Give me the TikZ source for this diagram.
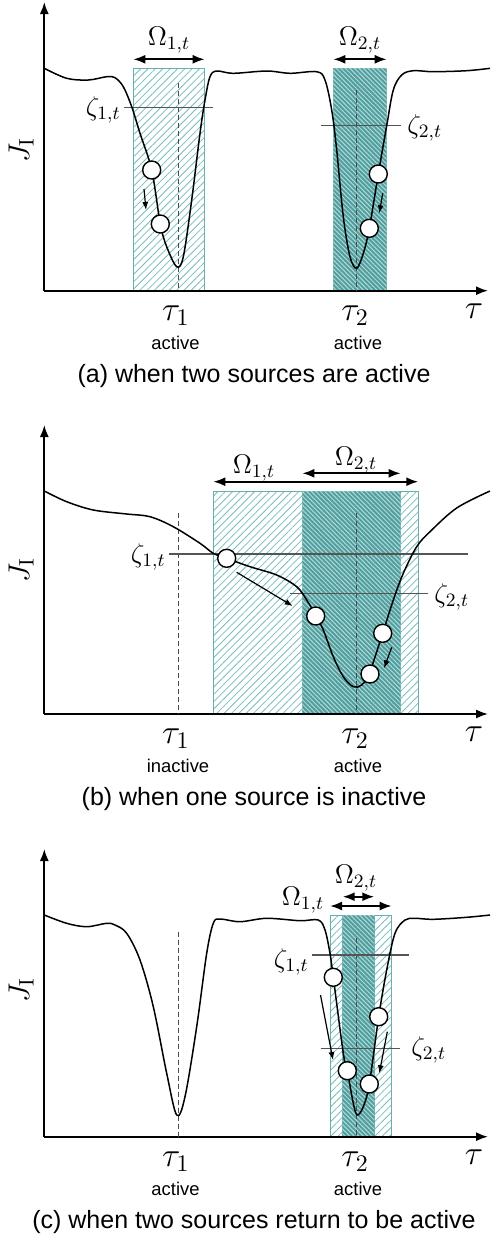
\RequirePackage{fix-cm}
\documentclass[tikz,border=0pt]{standalone}
\usepackage[no-math]{fontspec}
\newfontfamily\capfont{Liberation Sans}
\usetikzlibrary{arrows.meta,patterns.meta}
\definecolor{hatchlight}{RGB}{120,188,188}
\definecolor{boxborder}{RGB}{105,175,175}
\definecolor{darkfill}{RGB}{82,158,158}
\definecolor{darkline}{RGB}{175,218,218}
\definecolor{zetagray}{RGB}{85,85,85}
\definecolor{dashgray}{RGB}{75,75,75}
\tikzset{
  lightbox/.style={draw=boxborder, line width=0.5pt, pattern={Lines[angle=45,distance=2.6pt,line width=0.4pt]}, pattern color=hatchlight},
  darkbox/.style={draw=boxborder, line width=0.5pt, fill=darkfill, postaction={pattern={Lines[angle=-45,distance=1.6pt,line width=0.5pt]}, pattern color=darkline}},
  axisline/.style={line width=0.85pt, -{Latex[length=6pt,width=4.5pt]}},
  curveline/.style={line width=0.75pt},
  zetaline/.style={line width=0.6pt, draw=zetagray},
  tauline/.style={line width=0.5pt, draw=dashgray, dash pattern=on 2.5pt off 1.5pt},
  omegaarrow/.style={line width=1pt, {Latex[length=6pt,width=4.5pt]}-{Latex[length=6pt,width=4.5pt]}},
  ball/.style={circle, draw, fill=white, line width=0.7pt, minimum size=9pt, inner sep=0pt},
  movearrow/.style={line width=0.6pt, -{Latex[length=4pt,width=3pt]}},
  taulab/.style={inner sep=0pt, anchor=base, font=\fontsize{17}{20}\selectfont},
  smalllab/.style={inner sep=0pt, font=\fontsize{13.5}{16}\selectfont},
  statelab/.style={inner sep=0pt, anchor=base, font=\capfont\fontsize{9.2}{11}\selectfont},
  caplab/.style={inner sep=0pt, anchor=base, font=\capfont\fontsize{12.5}{15}\selectfont},
  jlab/.style={inner sep=0pt, rotate=90, font=\fontsize{15}{18}\selectfont},
}
\begin{document}
\begin{tikzpicture}[x=0.5pt,y=-0.5pt]
\useasboundingbox (0,0) rectangle (491,1239);

% ================= panel (a) =================
\begin{scope}
\path[lightbox] (133.3,68) rectangle (204.7,290.7);
\path[darkbox] (333.3,68) rectangle (386.7,290.7);
\coordinate (aO) at (44.3,290.7);
\coordinate (aY) at (44.3,2);
\coordinate (aX) at (488,290.7);
\draw[axisline] (aO) -- (aY);
\draw[axisline] (aO) -- (aX);
\draw[tauline] (178.3,83) -- (178.3,290.7);
\draw[tauline] (356.7,90) -- (356.7,290.7);
\draw[zetaline] (124.3,107.7) -- (213.3,107.7);
\draw[zetaline] (320.7,125.7) -- (400.7,125.7);
\draw[curveline] plot[smooth,tension=0.55] coordinates {(44.3,68.3) (66.7,78.3) (88.3,80) (106.7,76.7) (115,77.7) (123.3,86.7) (131.7,106.7) (140,133.3) (151.7,170) (160.3,224) (166.7,246.7) (176.7,266.7) (183.3,256.7) (191.7,200) (200,133.3) (205,100) (210,76.7) (216.7,71) (233.3,73.3) (266.7,71) (290,73.3) (316.7,71.7) (325,80) (331.7,110) (336.7,150) (343.3,216.7) (350,256.7) (356.7,268.3) (363.3,253.3) (369.3,228.3) (378.3,174) (386.7,125.7) (393.3,90) (401.7,75) (413.3,70.7) (433.3,71.7) (466.7,70.7) (490,68.3)};
\node[ball] (a1) at (151.7,170) {};
\node[ball] (a2) at (160.3,224) {};
\node[ball] (a3) at (378.3,174) {};
\node[ball] (a4) at (369.3,228.3) {};
\draw[movearrow] (144,189) -- (146,210);
\draw[movearrow] (382.7,193.3) -- (379.3,213.3);
\coordinate (aw1l) at (133.3,59.3); \coordinate (aw1r) at (204.7,59.3);
\coordinate (aw2l) at (333.3,59.3); \coordinate (aw2r) at (386.7,59.3);
\draw[omegaarrow] (aw1l) -- (aw1r);
\draw[omegaarrow] (aw2l) -- (aw2r);
\node[smalllab,anchor=base] (aom1) at (169,45.7) {$\Omega_{1,t}$};
\node[smalllab,anchor=base] (aom2) at (360,45.7) {$\Omega_{2,t}$};
\node[smalllab,anchor=east] (az1) at (121,110) {$\zeta_{1,t}$};
\node[smalllab,anchor=west] (az2) at (407,128.3) {$\zeta_{2,t}$};
\node[jlab] (aj) at (21,150) {$J_{\mathrm{I}}$};
\node[taulab] (at1) at (175.8,320) {$\tau_1$};
\node[taulab] (at2) at (355,320) {$\tau_2$};
\node[taulab] (at) at (474,318) {$\tau$};
\node[statelab] (as1) at (175.5,349) {active};
\node[statelab] (as2) at (358,349) {active};
\node[caplab] (acap) at (254,382.7) {(a) when two sources are active};
\end{scope}

% ================= panel (b) =================
\begin{scope}[shift={(0,423)}]
\path[lightbox] (213.3,68) rectangle (418.3,291);
\path[darkbox] (302.3,68) rectangle (400.7,291);
\coordinate (bO) at (44.3,291);
\coordinate (bY) at (44.3,2);
\coordinate (bX) at (488,291);
\draw[axisline] (bO) -- (bY);
\draw[axisline] (bO) -- (bX);
\draw[tauline] (178.3,90) -- (178.3,291);
\draw[tauline] (356.7,90) -- (356.7,291);
\draw[zetaline] (169.3,131) -- (468.3,131);
\draw[zetaline] (290,170.3) -- (427.7,170.3);
\draw[curveline] plot[smooth,tension=0.55] coordinates {(44.3,68) (66.7,78.7) (93.3,87) (126.7,91) (150,93.7) (173.3,103.7) (200,120.3) (213.3,130.3) (226.7,135.3) (250,143.7) (276.7,152) (296.7,163.7) (306.7,177) (316,192.7) (323.3,207) (333.3,233.7) (343.3,253.7) (353.3,263.7) (361.7,262) (369.3,250.3) (382.7,210.3) (393.3,177) (403.3,150.3) (416.7,123.7) (430,108.7) (456.7,85) (490,68)};
\node[ball] (b1) at (226.7,135.3) {};
\node[ball] (b2) at (315.7,193) {};
\node[ball] (b3) at (382.7,210.3) {};
\node[ball] (b4) at (370,251) {};
\draw[movearrow] (236.7,149.3) -- (292.7,183);
\draw[movearrow] (391.7,224.3) -- (384,245.3);
\coordinate (bw1l) at (213.3,58.7); \coordinate (bw1r) at (418.3,58.7);
\coordinate (bw2l) at (302.3,50.3); \coordinate (bw2r) at (400.7,50.3);
\draw[omegaarrow] (bw1l) -- (bw1r);
\draw[omegaarrow] (bw2l) -- (bw2r);
\node[smalllab,anchor=base] (bom1) at (254,50.3) {$\Omega_{1,t}$};
\node[smalllab,anchor=base] (bom2) at (356,42) {$\Omega_{2,t}$};
\node[smalllab,anchor=east] (bz1) at (166,133.7) {$\zeta_{1,t}$};
\node[smalllab,anchor=west] (bz2) at (434,173.7) {$\zeta_{2,t}$};
\node[jlab] (bj) at (21,147) {$J_{\mathrm{I}}$};
\node[taulab] (bt1) at (175.8,320) {$\tau_1$};
\node[taulab] (bt2) at (355,320) {$\tau_2$};
\node[taulab] (bt) at (474,318) {$\tau$};
\node[statelab] (bs1) at (178,349) {inactive};
\node[statelab] (bs2) at (358,349) {active};
\node[caplab] (bcap) at (254,382.7) {(b) when one source is inactive};
\end{scope}

% ================= panel (c) =================
\begin{scope}[shift={(0,846)}]
\path[lightbox] (330,69) rectangle (391.7,290.7);
\path[darkbox] (342.7,69) rectangle (374.3,290.7);
\coordinate (cO) at (44.3,290.7);
\coordinate (cY) at (44.3,3);
\coordinate (cX) at (488,290.7);
\draw[axisline] (cO) -- (cY);
\draw[axisline] (cO) -- (cX);
\draw[tauline] (178.3,85.7) -- (178.3,290.7);
\draw[tauline] (356.7,92) -- (356.7,290.7);
\draw[zetaline] (312.3,109) -- (409.3,109);
\draw[zetaline] (320.7,202.3) -- (400,202.3);
\draw[curveline] plot[smooth,tension=0.55] coordinates {(44.3,69) (66.7,77.3) (86.7,80.7) (106.7,77.3) (115,79) (126.7,87.3) (140,114) (153.3,160.7) (166.7,227.3) (176.7,269) (185,250.7) (196.7,180.7) (206.7,107.3) (213.3,77.3) (220,73) (240,75.7) (266.7,72.3) (300,74.7) (318.3,74) (325,84) (330,107.3) (333.3,131.3) (343.3,207.3) (347.3,224.7) (353.3,257.3) (357.3,269) (363.3,260.7) (369.3,238) (378.7,170.7) (386.7,124) (395,87.3) (405,74) (415,72.3) (433.3,73.3) (466.7,71.3) (490,69)};
\node[ball] (c1) at (333.3,131.3) {};
\node[ball] (c2) at (347.3,224.7) {};
\node[ball] (c3) at (378.7,170.7) {};
\node[ball] (c4) at (369.3,238) {};
\draw[movearrow] (320.5,149) -- (333,214);
\draw[movearrow] (387.3,185.7) -- (379.3,227.3);
\coordinate (cw1l) at (330,60); \coordinate (cw1r) at (391.7,60);
\coordinate (cw2l) at (342.7,50.7); \coordinate (cw2r) at (374.3,50.7);
\draw[omegaarrow] (cw1l) -- (cw1r);
\draw[omegaarrow] (cw2l) -- (cw2r);
\node[smalllab,anchor=base] (com1) at (303,59) {$\Omega_{1,t}$};
\node[smalllab,anchor=base] (com2) at (356,37.3) {$\Omega_{2,t}$};
\node[smalllab,anchor=east] (cz1) at (309,115.7) {$\zeta_{1,t}$};
\node[smalllab,anchor=west] (cz2) at (411,204) {$\zeta_{2,t}$};
\node[jlab] (cj) at (21,144) {$J_{\mathrm{I}}$};
\node[taulab] (ct1) at (175.8,320) {$\tau_1$};
\node[taulab] (ct2) at (355,320) {$\tau_2$};
\node[taulab] (ct) at (474,318) {$\tau$};
\node[statelab] (cs1) at (175.5,349) {active};
\node[statelab] (cs2) at (358,349) {active};
\node[caplab] (ccap) at (254,382.7) {(c) when two sources return to be active};
\end{scope}
\end{tikzpicture}
\end{document}
